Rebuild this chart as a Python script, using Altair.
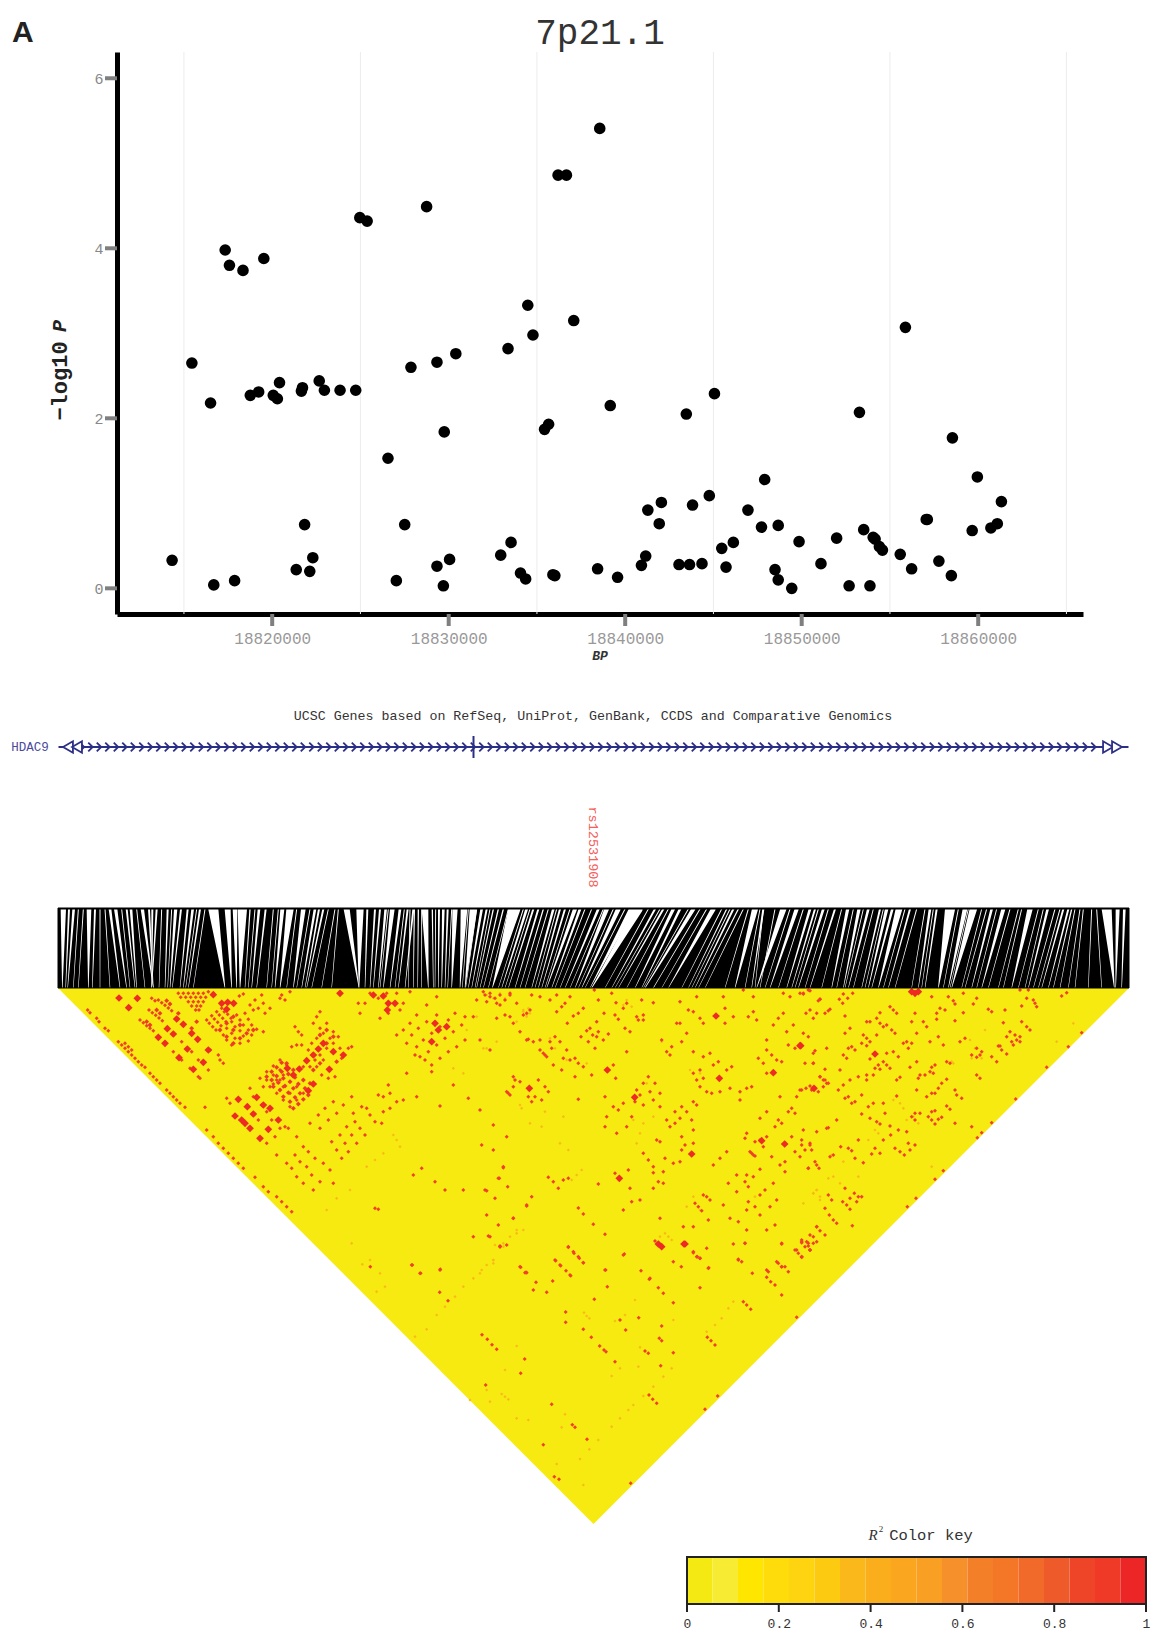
import altair as alt
import pandas as pd

W, H = 1144, 1628
MONO = "Liberation Mono"
NAVY = "#2c2f86"

bp_read = [18814380,18815490,18816540,18816720,18817360,18817600,18817890,18818360,18818770,18819240,18819530,18820060,18820290,18820410,18821350,18821640,18821700,18821820,18822110,18822280,18822640,18822930,18823810,18824690,18824920,18825330,18826500,18826970,18827440,18827790,18828670,18829250,18829250,18829610,18829660,18829960,18830310,18832830,18833240,18833410,18833940,18834230,18834350,18834640,18835290,18835520,18835760,18835870,18836050,18836520,18836930,18838270,18838390,18838980,18839390,18840730,18840970,18841090,18841730,18841850,18842840,18843250,18843430,18843600,18844130,18844540,18844830,18845240,18845480,18845890,18846710,18847470,18847650,18848230,18848410,18848410,18849170,18849580,18850810,18851690,18852390,18852970,18853210,18853560,18853740,18853850,18854090,18854260,18855260,18855550,18855900,18856720,18856780,18857430,18858130,18858190,18859300,18859590,18860350,18860710,18860940]
bp = [18820000 + round((v - 18820000) * 1.00916) for v in bp_read]
logp = [0.33,2.65,2.18,0.04,3.98,3.80,0.09,3.74,2.27,2.31,3.88,2.27,2.23,2.42,0.22,2.32,2.36,0.75,0.20,0.36,2.44,2.33,2.33,2.33,4.36,4.32,1.53,0.09,0.75,2.60,4.49,2.66,0.26,0.03,1.84,0.34,2.76,0.39,2.82,0.54,0.18,0.11,3.33,2.98,1.87,1.93,0.16,0.15,4.86,4.86,3.15,0.23,5.41,2.15,0.13,0.27,0.38,0.92,0.76,1.01,0.28,2.05,0.28,0.98,0.29,1.09,2.29,0.47,0.25,0.54,0.92,0.72,1.28,0.22,0.74,0.10,0.00,0.55,0.29,0.59,0.03,2.07,0.69,0.03,0.60,0.58,0.49,0.45,0.40,3.07,0.23,0.81,0.81,0.32,0.15,1.77,0.68,1.31,0.71,0.76,1.02]
grid_bp = [18815000,18825000,18835000,18845000,18855000,18865000]
tick_bp = [18820000,18830000,18840000,18850000,18860000]
tick_p = [0, 2, 4, 6]

# White gaps between SNP connector lines: (top reading, width at top, bottom reading)
gaps_a = [(25,16,22),(42,6,32),(56,8,38),(102,14,100),(120,6,112),(165,8,195),(182,10,215),(215,6,240),(228,8,245),(262,10,295),(282,6,295),(292,6,290),(305,6,290),(338,6,330),(362,10,345),(378,6,352),(398,6,375),(413,8,385),(435,6,400),(475,30,510),(518,18,530),(540,14,545),(562,28,555),(585,4,570),(612,8,590),(632,6,605),(682,12,660),(705,22,675),(745,14,715),(780,8,740),(792,6,750),(805,6,755),(875,18,912),(915,22,912),(937,6,930),(960,6,945),(975,6,955),(992,8,970),(1012,14,985),(1035,8,1005),(1058,6,1030),(1075,6,1050),
          (70,3,55),(85,3,70),(135,3,135),(150,3,165),(200,3,225),(245,3,270),(320,3,312),(350,3,338),(425,3,392),(450,3,415),(600,3,580),(655,3,635),(670,3,650),(725,3,695),(765,3,725),(820,3,770),(840,3,800),(850,3,830),(1000,3,975),(1048,3,1020)]
gaps_b = [(28,4,25),(40,4,38),(60,20,70),(82,4,85),(102,6,100),(115,8,110),(128,6,120),(150,16,140),(177,20,165),(205,22,180),(230,8,190),(245,6,200),(265,4,215),(280,4,225),(295,4,235),(328,36,262),(365,8,290),(385,6,310),(400,6,330),(415,4,345),(445,8,380),(465,6,400),(480,6,410),(510,12,425),(525,8,440),(580,8,480),(605,14,510),(640,14,530),(680,16,555),(700,26,560),(750,6,620),(775,6,640),(805,10,690),(825,8,710),(865,12,720),(925,14,790),(965,4,850),(985,6,870),(1000,4,880),(1050,18,990),(1075,6,1040),
          (15,3,10),(50,3,50),(92,3,90),(140,3,128),(190,3,172),(215,3,182),(255,3,210),(310,3,250),(355,3,280),(375,3,300),(430,3,360),(455,3,390),(495,3,420),(540,3,450),(560,3,465),(595,3,495),(625,3,520),(660,3,540),(730,3,600),(765,3,630),(790,3,665),(850,3,715),(885,3,745),(905,3,770),(950,3,830),(975,3,860),(1015,3,900),(1030,3,960),(1065,3,1020)]
gaps_c = [(85,18,5),(125,12,45),(165,8,95),(180,6,110),(205,8,130),(240,6,165),(278,10,230),(312,10,265),(340,8,280),(375,6,320),(395,10,340),(412,8,350),(432,20,370),(465,6,400),(525,8,490),(545,6,510),(585,30,550),(630,14,580),(655,22,590),(710,8,650),(745,12,680),(825,16,770),(878,8,820),(925,6,860),(940,6,880),(950,4,895),(1055,30,1078),(1088,12,1082),(1108,8,1100),
          (25,3,0),(60,3,15),(105,3,30),(145,3,70),(190,3,120),(220,3,150),(260,3,200),(295,3,245),(325,3,270),(355,3,295),(385,3,330),(450,3,385),(485,3,420),(510,3,470),(535,3,500),(610,3,565),(640,3,585),(680,3,620),(695,3,630),(725,3,665),(765,3,700),(790,3,730),(800,3,745),(850,3,790),(865,3,810),(900,3,835),(915,3,850),(960,3,915),(975,3,940),(985,3,960),(1010,3,1000),(1025,3,1040)]

# R2 cells, per crop
ld_a_big = [(207,54),(262,55),(236,83),(490,44),(533,67),(551,70),(515,70),(530,88),(380,117),(400,133),(352,146),(370,162),(325,172),(345,190),(425,160),(443,178),(412,207),(387,233),(475,210),(430,268),(460,247),(730,285),(748,267),(712,265),(775,332),(790,312),(640,375),(660,385),(610,402),(585,430),(630,475),(655,448),(685,420),(838,268),(880,225),(790,225),(770,242),(1035,70),(1012,90),(1000,48),(970,45),(870,40),(820,190),(805,207),(850,215),(1190,140),(1145,185),
            (565,358),(592,380),(620,352),(555,408),(575,420),(600,445),(1155,130),(1165,150),(1015,70)]
ld_a_block = [(650,290),(665,275),(680,262),(695,248),(665,300),(680,288),(695,275),(710,250),(670,320),(685,308),(700,295),(715,282),(730,270),(690,330),(705,318),(720,305),(735,292),(700,350),(715,338),(730,325),(745,312),(760,300),(720,365),(735,352),(750,340),(765,325),(780,310),(730,385),(745,372),(760,358),(775,345),(550,110),(530,130),(510,150),(570,135),(550,150),(530,170),(590,160),(570,175),(550,190),(610,150),(290,125),(300,135),(320,90),(330,100),(350,62),(360,72),(440,125),(425,145),(385,100),(810,165),(830,150),(850,170),(830,190),(810,250),(790,270),(860,245)]
ld_a_med = [(270,120),(280,128),(290,137),(300,145),(310,152),(297,90),(307,98),(317,106),(327,114),(337,122),(325,60),(335,68),(345,76),(355,84),(365,92),(305,55),(315,62),(385,40),(400,40),(415,40),(430,40),(445,40),(460,40),(475,35),(392,52),(407,52),(422,52),(437,52),(452,52),(467,52),(415,65),(430,65),(445,65),(460,65),(425,78),(440,78),(452,78),(437,90),(447,90),(470,120),(485,107),(500,95),(515,85),(478,130),(493,117),(508,105),(523,95),(488,140),(503,127),(518,115),(533,103),(498,150),(513,137),(528,125),(543,115),(560,105),(585,100),(545,125),(570,120),(595,118),(530,145),(555,140),(580,135),(605,135),(520,165),(545,160),(570,152),(595,150),(620,148),(530,180),(555,175),(580,168),(605,165),(545,195),(570,190),(595,183),(640,155),(615,60),(635,45),(600,75),(640,70),(660,85),(625,85),(645,100),(610,90),(568,48),(580,42),(695,45),(720,35),(705,60),(690,55),(735,140),(745,155),(755,165),(800,110),(810,95),(790,130),(600,325),(620,350),(690,240),(670,258),(650,275),(630,295),(710,255),(700,285),(680,300),(660,320),(720,305),(700,320),(680,340),(740,320),(720,340),(700,360),(760,340),(740,360),(720,380),(690,300),(670,312),(650,300),(670,285),(690,270),(640,320),(810,145),(830,130),(850,155),(865,170),(840,175),(820,160),(800,175),(785,190),(755,195),(775,210),(795,240),(815,285),(835,295),(855,290),(875,235),(895,205),(905,200),(820,240),(800,260),(780,260),(760,260),(740,195),(725,200),(850,190),(870,205),(830,205),(810,225),(113,90),(120,98),(140,115),(147,125),(165,145),(175,152),(205,185),(215,195),(225,205),(235,215),(245,225),(255,235),(265,245),(275,255),(285,262),(225,190),(235,200),(245,210),(300,280),(310,290),(320,300),(330,310),(350,330),(360,340),(370,350),(380,360),(390,370),(405,382),(465,382),(470,450),(490,470),(505,490),(520,505),(535,520),(550,535),(565,550),(580,565),(615,592),(640,620),(655,635),(680,650),(695,665),(710,680),(725,695),(420,265),(445,290),(450,295),(475,270),(510,240),(480,210),(505,225),(520,250),(395,240),(370,215),(395,185),(425,215),(445,240),(590,380),(610,350),(635,375),(530,355),(540,370),(625,420),(650,395),(665,420),(690,445),(705,440),(650,490),(675,470),(715,445),(740,470),(850,365),(825,385),(805,405),(780,430),(905,350),(880,375),(860,400),(835,420),(810,445),(915,425),(890,440),(870,465),(845,485),(930,445),(905,465),(885,490),(860,510),(945,465),(920,490),(895,515),(875,535),(910,400),(935,380),(950,385),(960,405),(975,425),(995,430),(1000,350),(1020,340),(985,345),(1015,315),(1040,365),(1060,360),(1070,280),(1100,350),(1020,385),(1000,395),(710,550),(735,525),(760,500),(725,565),(750,545),(775,515),(740,590),(770,560),(795,535),(820,550),(840,570),(760,610),(785,585),(810,605),(790,630),(850,610),(680,525),(1160,105),(1130,125),(1105,145),(1085,165),(1070,190),(1215,100),(1195,120),(1170,140),(1145,160),(1120,180),(1100,200),(1235,135),(1210,155),(1185,175),(1160,195),(1135,215),(1110,230),(1245,180),(1220,200),(1195,215),(1170,235),(1145,255),(1125,240),(1145,275),(1095,225),(1040,165),(1060,150),(1080,130),(1100,105),(1130,75),(1160,50),(1245,110),(1270,110),(960,40),(985,55),(1010,40),(1040,40),(925,70),(945,70),(930,100),(990,115),(1015,100),(1050,90),(1060,70),(1080,35),(1440,325),(1375,340),(1390,290),(1330,435),(1290,390),(1255,355),(1170,378),(1210,315),(1155,605),(1185,630),(1240,630),(1305,630),(975,685),(1390,715),(1430,675),(1320,770),(1270,770),(1350,800),(1430,878),(1085,855),(1110,880),(1170,870),(1115,565),(1090,585),(1345,595),(1360,560),(1295,495),(1330,510),(1370,470),(1480,220),(1440,90),(1280,60),(1340,70),(1400,70),(1380,110),(1430,100),(1430,180),(1470,180),(1490,230),(1320,40),(1350,45),(1300,35),(1380,40),(1290,180),(1320,210),(985,688)]
ld_a_faint = [(1310,45),(1330,55),(1350,40),(1365,55),(1420,95),(1435,85),(1430,105),(1280,110),(1250,150),(1300,205),(1210,265),(1240,280),(950,560),(975,540),(1000,520),(900,630),(860,655),(830,690),(1040,480),(1030,465),(1050,500),(1330,850),(1290,880),(1360,800),(1380,770),(1400,750)]

ld_b_big = [(708,108),(382,270),(148,325),(464,352),(718,295),(880,278),(962,197),(914,492),(418,595),(635,522),(845,482),(612,792)]
ld_b_med = [(343,30),(650,50),(730,50),(985,30),(1020,58),(970,42),(395,40),(355,60),(485,60),(408,68),(440,70),(520,68),(430,85),(270,50),(230,45),(180,50),(155,45),(210,60),(255,70),(245,80),(230,95),(310,85),(295,100),(280,108),(262,130),(372,100),(470,110),(490,105),(475,120),(490,120),(405,105),(415,118),(350,125),(330,145),(320,152),(303,170),(355,155),(350,170),(338,165),(325,185),(370,180),(385,162),(345,205),(450,155),(435,145),(145,178),(160,185),(120,155),(50,115),(75,105),(100,130),(130,105),(30,50),(20,65),(45,55),(60,75),(75,60),(90,45),(15,45),(210,185),(225,170),(240,185),(215,205),(260,210),(250,235),(270,240),(285,235),(295,250),(245,270),(220,255),(180,210),(195,225),(285,290),(310,260),(335,285),(400,255),(407,295),(440,215),(625,90),(640,95),(600,65),(660,115),(670,130),(735,85),(735,130),(760,110),(805,110),(830,120),(820,95),(820,50),(790,30),(910,100),(880,135),(895,115),(940,135),(920,155),(970,160),(1000,115),(1000,250),(1000,220),(975,250),(985,170),(860,180),(860,210),(835,235),(850,250),(875,225),(905,245),(890,240),(945,205),(925,195),(910,40),(930,50),(960,40),(590,130),(600,130),(620,160),(605,185),(545,180),(575,200),(560,215),(570,225),(640,215),(690,220),(670,230),(715,245),(700,255),(740,270),(755,260),(640,280),(660,270),(670,295),(650,300),(660,320),(680,335),(695,340),(720,335),(750,325),(780,335),(800,325),(815,320),(780,360),(860,280),(490,310),(505,290),(470,330),(510,335),(525,310),(480,345),(540,340),(105,300),(100,320),(120,305),(80,335),(90,345),(175,300),(195,320),(165,350),(185,360),(145,350),(155,365),(205,335),(295,358),(375,350),(380,410),(375,440),(400,380),(415,390),(430,370),(455,410),(440,440),(410,460),(465,365),(490,375),(520,360),(540,380),(560,420),(585,395),(605,380),(620,395),(570,440),(600,415),(635,420),(650,375),(640,365),(640,450),(605,470),(615,495),(605,510),(640,490),(530,480),(540,485),(490,520),(505,540),(445,570),(520,560),(520,578),(535,605),(550,575),(550,610),(520,625),(480,660),(455,665),(430,690),(450,625),(600,545),(580,550),(555,535),(720,535),(700,555),(740,515),(840,415),(860,395),(900,350),(950,350),(965,330),(995,330),(1030,320),(1005,325),(1015,335),(990,318),(1020,290),(1035,300),(1045,310),(935,385),(925,395),(945,400),(895,420),(905,430),(885,440),(800,460),(795,475),(840,480),(860,470),(825,485),(850,500),(810,515),(820,525),(875,530),(900,555),(915,545),(945,515),(960,530),(985,565),(1010,555),(1040,445),(965,480),(990,495),(935,470),(915,575),(840,568),(800,585),(770,585),(745,610),(795,605),(805,620),(770,635),(820,590),(880,610),(855,630),(840,645),(805,665),(800,690),(825,680),(890,660),(870,680),(840,705),(730,675),(685,720),(540,715),(655,680),(645,670),(665,692),(680,650),(690,660),(670,645),(750,715),(775,725),(610,740),(640,740),(800,750),(860,750),(885,735),(905,790),(1010,740),(1000,770),(985,790),(965,780),(990,810),(950,810),(965,830),(650,830),(660,835),(680,805),(640,815),(685,865),(795,790),(775,840),(860,870),(890,845),(905,860),(510,895),(375,870),(430,825),(310,848),(295,830),(280,815),(265,800),(240,855),(225,840),(135,878),(120,860),(270,885),(45,655),(20,632),(70,563),(58,595),(83,620),(140,678),(155,650),(100,715),(25,768),(20,705),(55,735),(60,800),(340,733),(375,763),(310,702),(295,684),(235,625),(205,592),(220,605),(250,600),(265,595),(355,612),(405,580),(525,783),(535,792),(545,800),(815,520),(825,528),(585,430)]
ld_b_faint = [(130,90),(150,100),(140,110),(110,125),(545,185),(630,270),(660,280),(430,75),(440,60),(455,80),(20,205),(30,210),(50,185),(210,175),(225,205),(260,240),(320,250),(305,570),(290,585),(275,600),(120,375),(125,385),(195,395),(540,770),(555,760),(565,770),(575,780),(640,650),(660,690),(620,680),(1000,640),(1010,630),(1020,650),(825,650),(45,795),(70,790),(130,750),(110,760),(40,840),(20,855),(470,490),(480,460),(490,430),(460,420),(520,410),(265,510),(240,490),(500,310),(970,670),(150,430),(185,440),(250,410)]

ld_c_big = [(345,40),(335,35),(355,35),(225,222),(42,325),(0,197)]
ld_c_med = [(10,40),(30,32),(60,58),(55,62),(118,58),(130,42),(158,40),(143,55),(128,70),(90,88),(85,92),(50,100),(75,100),(30,90),(18,100),(270,80),(280,90),(290,100),(240,98),(230,115),(240,130),(250,140),(210,125),(200,125),(135,108),(150,145),(135,160),(190,165),(200,175),(210,185),(185,190),(200,197),(230,165),(260,135),(275,150),(285,160),(345,100),(335,125),(370,125),(380,140),(350,160),(395,50),(445,50),(460,62),(465,72),(520,72),(530,55),(490,98),(410,100),(420,85),(435,90),(410,118),(465,122),(565,88),(575,95),(615,90),(610,128),(665,125),(680,140),(690,150),(665,78),(680,55),(705,70),(710,80),(785,48),(800,38),(700,60),(685,30),(660,30),(490,40),(630,155),(645,165),(660,170),(620,170),(635,185),(650,180),(660,185),(640,195),(595,198),(605,210),(620,222),(590,245),(575,230),(530,205),(545,215),(540,225),(530,232),(515,225),(495,175),(480,185),(430,195),(390,185),(415,170),(320,185),(335,190),(325,205),(310,190),(295,230),(280,215),(260,220),(250,245),(260,255),(270,265),(235,255),(240,268),(225,265),(210,237),(155,200),(165,210),(145,205),(130,225),(140,235),(120,270),(75,268),(40,250),(45,212),(80,205),(0,330),(18,325),(60,290),(70,300),(80,310),(300,292),(290,300),(350,245),(330,262),(360,285),(355,295),(375,285),(395,262),(405,255),(390,275),(400,280),(440,298),(425,310),(415,325),(405,340),(395,340),(380,350),(465,330),(485,355),(470,345),(530,285),(540,295),(440,378),(450,388),(405,392),(395,395),(385,410),(415,418),(425,412),(405,432),(395,420),(350,330),(345,400),(360,400),(335,410),(345,420),(290,348),(250,370),(220,370),(205,380),(185,402),(210,415),(230,425),(240,432),(255,400),(270,438),(295,450),(272,465),(320,455),(325,490),(345,495),(330,510),(313,525),(300,515),(285,505),(250,480),(240,520),(215,522),(225,505),(175,480),(145,505),(155,512),(122,500),(190,548),(165,535),(100,525),(90,530),(25,565),(57,565),(45,545),(35,510),(15,510),(5,495),(30,490),(50,455),(10,450),(85,443),(110,420),(185,345),(165,365),(155,370),(135,355),(145,350),(150,300),(130,315),(115,330),(175,290),(200,285),(200,300),(220,285),(405,598),(430,572),(532,473),(545,458),(575,428),(740,262),(805,200),(845,158),(647,357),(348,655),(322,680),(600,198),(465,430),(515,440),(440,245),(450,250),(60,752),(75,765),(50,740),(88,705),(100,720),(110,730),(157,737),(128,665),(140,675),(150,688),(163,640),(175,650),(185,650),(150,655),(170,665),(135,625),(30,765),(20,785),(40,790),(50,785),(30,810),(15,800),(5,785),(5,830),(75,685),(95,660),(85,645)]
ld_c_faint = [(555,150),(510,180),(525,205),(545,235),(460,250),(455,245),(340,410),(320,420),(300,370),(310,385),(280,360),(355,430),(225,450),(235,460),(205,480),(130,545),(100,590),(85,595),(50,630),(40,640),(60,660),(175,590),(120,610),(95,525),(820,130),(770,185),(395,560),(515,235)]

ld_d_big = [(1155,12),(1075,12),(1085,20)]
ld_d_med = [(600,18),(620,15),(805,22),(822,40),(838,55),(850,68),(767,62),(782,77),(798,92),(812,107),(973,42),(1180,38),(1192,50),(1200,55),(1226,83),(1144,80),(1120,65),(1023,92),(1048,118),(1075,143),(1090,160),(1120,188),(1200,143),(1300,12),(1335,10),(1315,58),(1325,65),(1445,12),(1505,8),(1525,18),(1485,30),(1495,40),(1505,52),(1530,30),(1435,70),(1445,80),(1455,80),(1405,95),(1400,112),(1412,125),(1425,135),(1357,100),(1445,165),(1465,95),(1330,185),(1340,195),(1352,208),(1490,232),(1253,468),(1215,508),(992,730),(763,710),(777,718),(337,75),(362,100),(421,88),(211,80),(419,157),(444,182),(662,82),(678,97),(708,127),(758,123),(700,150),(740,157),(883,178),(917,90),(922,140),(797,216),(797,247),(850,268),(874,292),(899,318),(912,330),(918,335),(945,365),(1016,233),(977,270),(960,240),(1078,295),(1085,302),(1085,258),(1035,333),(1045,340),(1120,338),(1082,377),(546,284),(562,298),(576,314),(590,328),(674,357),(662,400),(557,435),(755,493),(817,554),(825,562),(861,598),(730,614),(1047,465),(1058,478),(1070,490),(1222,292),(1233,302),(1245,315)]
ld_d_faint = [(580,60),(545,90),(520,115),(490,140),(465,170),(435,200),(410,225),(380,268),(345,290),(155,10),(210,60),(240,100),(255,140),(230,155),(187,73),(1300,185),(1285,205),(1265,235),(1245,255),(1220,275),(860,228),(852,218),(868,235),(1115,385),(1090,410),(1060,440),(1030,468),(1000,495),(985,510),(960,535),(935,560),(895,600),(868,628),(840,657),(615,470),(605,462),(625,478),(650,318),(615,390),(560,450),(510,480),(570,485),(650,535),(685,540),(795,523),(785,562),(770,672),(850,735),(935,408),(960,385),(1020,322),(1015,380),(1120,240),(975,225),(945,243),(1005,180)]

key_breaks = [i / 18 for i in range(19)]
key_colors = ["#f5e914","#f7ec33","#ffe600","#fedc0c","#fdd40f","#fccb11","#fbb81a","#fbae1c","#faa61f","#f99f24","#f6902a","#f47f29","#f47728","#f26a2a","#ef5a2a","#ee4428","#ee3a27","#ec2527"]
key_ticks = [0, 0.2, 0.4, 0.6, 0.8, 1]


def cells(reads, ox, oy):
    rows = []
    for zx, zy in reads:
        pos, depth = ox + zx / 3 - 58, oy + zy / 3 - 988
        if depth >= 0 and depth <= min(pos, 1071 - pos):
            rows.append({"pos": pos, "depth": depth})
    return rows


def gaps(reads, ox):
    rows = []
    for k, (top, w, bot) in enumerate(reads):
        rows.append({"id": f"{ox}-{k}", "o": 0, "pos": ox + top / 3 - 58, "depth": -79, "w": w / 3})
        rows.append({"id": f"{ox}-{k}", "o": 1, "pos": ox + bot / 3 - 58, "depth": 0, "w": 0.5})
    return rows


big = cells(ld_a_big, 50, 980) + cells(ld_b_big, 480, 980) + cells(ld_c_big, 800, 980) + cells(ld_d_big, 300, 1240)
block = cells(ld_a_block, 50, 980)
med = cells(ld_a_med, 50, 980) + cells(ld_b_med, 480, 980) + cells(ld_c_med, 800, 980) + cells(ld_d_med, 300, 1240)
faint = cells(ld_a_faint, 50, 980) + cells(ld_b_faint, 480, 980) + cells(ld_c_faint, 800, 980) + cells(ld_d_faint, 300, 1240)
wedges = gaps(gaps_a, 55) + gaps(gaps_b, 405) + gaps(gaps_c, 755)

pos_scale = alt.Scale(domain=[0, 1071], range=[50, 1121], nice=False, zero=False)
depth_scale = alt.Scale(domain=[-80, 536], range=[900, 1516], nice=False, zero=False)
POS = alt.X("pos:Q", scale=pos_scale, axis=None)
DEPTH = alt.Y("depth:Q", scale=depth_scale, axis=None)

bp_scale = alt.Scale(domain=[18811207, 18865938], range=[109, 1075], nice=False, zero=False)
p_scale = alt.Scale(domain=[-0.302, 6.309], range=[606, 44], nice=False, zero=False)
key_scale = alt.Scale(domain=[0, 1], range=[679, 1138], nice=False, zero=False)


def label(text, x, y, **kw):
    return alt.Chart(alt.Data(values=[{"t": text}])).mark_text(**kw).encode(
        text="t:N", x=alt.value(x - 8), y=alt.value(y - 8))


grid = alt.Chart(pd.DataFrame({"g": grid_bp})).mark_rule(color="#ececec", strokeWidth=1).encode(
    x=alt.X("g:Q", scale=bp_scale, axis=None), y=alt.value(44), y2=alt.value(606))
xticks = alt.Chart(pd.DataFrame({"g": tick_bp})).mark_rule(color="#7f7f7f", strokeWidth=4).encode(
    x=alt.X("g:Q", scale=bp_scale, axis=None), y=alt.value(606), y2=alt.value(618))
yticks = alt.Chart(pd.DataFrame({"g": tick_p})).mark_rule(color="#7f7f7f", strokeWidth=4).encode(
    y=alt.Y("g:Q", scale=p_scale, axis=None), x=alt.value(97), x2=alt.value(109))

dots = alt.Chart(pd.DataFrame({"bp": bp, "p": logp})).mark_circle(color="black", opacity=1, size=135).encode(
    x=alt.X("bp:Q", scale=bp_scale, axis=alt.Axis(
        orient="bottom", offset=-(H - 606), values=tick_bp, format="d", title=None, grid=False,
        domainColor="black", domainWidth=5, ticks=False,
        labelColor="#999999", labelFont=MONO, labelFontSize=16, labelPadding=16)),
    y=alt.Y("p:Q", scale=p_scale, axis=alt.Axis(
        orient="left", offset=-109, values=tick_p, format="d", title=None, grid=False,
        domainColor="black", domainWidth=5, ticks=False,
        labelColor="#888888", labelFont=MONO, labelFontSize=15, labelPadding=14)))

intron = alt.Chart(alt.Data(values=[{"a": 0.5, "b": 1070.5}])).mark_rule(color=NAVY, strokeWidth=2).encode(
    x=alt.X("a:Q", scale=pos_scale, axis=None), x2="b:Q", y=alt.value(739))
chevrons = alt.Chart(pd.DataFrame({"pos": [24 + 8.5 * i for i in range(120)]})).mark_point(
    shape="M-0.5,-1L0.5,0L-0.5,1", stroke=NAVY, strokeWidth=1.8, filled=False, size=80, opacity=1).encode(
    x=POS, y=alt.value(739))
exon = alt.Chart(alt.Data(values=[{"pos": 415.5}])).mark_rule(color=NAVY, strokeWidth=2).encode(
    x=POS, y=alt.value(728), y2=alt.value(750))
ends_l = alt.Chart(pd.DataFrame({"pos": [10, 19]})).mark_point(
    shape="triangle-left", stroke=NAVY, strokeWidth=1.8, fill="white", filled=True, size=130, opacity=1).encode(
    x=POS, y=alt.value(739))
ends_r = alt.Chart(pd.DataFrame({"pos": [1050, 1059]})).mark_point(
    shape="triangle-right", stroke=NAVY, strokeWidth=1.8, fill="white", filled=True, size=130, opacity=1).encode(
    x=POS, y=alt.value(739))

triangle = alt.Chart(alt.Data(values=[
    {"pos": 0, "depth": 0, "top": 0}, {"pos": 535.5, "depth": 536, "top": 0}, {"pos": 1071, "depth": 0, "top": 0}
])).mark_area(color="#f6ea10", opacity=1).encode(x=POS, y=DEPTH, y2="top:Q")


def cell_layer(rows, color, size):
    return alt.Chart(alt.Data(values=rows)).mark_point(
        shape="diamond", filled=True, color=color, size=size, opacity=1).encode(x=POS, y=DEPTH)


cells_faint = cell_layer(faint, "#fbb81a", 10)
cells_med = cell_layer(med, "#f0402a", 16)
cells_block = cell_layer(block, "#ef3a28", 24)
cells_big = cell_layer(big, "#ee2a24", 60)

bar = alt.Chart(alt.Data(values=[{"pos": 0, "p2": 1071, "depth": -80, "d2": 0}])).mark_rect(color="black").encode(
    x=POS, x2="p2:Q", y=DEPTH, y2="d2:Q")
trail = alt.Chart(alt.Data(values=wedges)).mark_trail(color="white", opacity=1).encode(
    x=POS, y=DEPTH, detail="id:N", order="o:Q", size=alt.Size("w:Q", scale=None))
cover = alt.Chart(alt.Data(values=[{"pos": 0, "p2": 1071, "depth": -95, "d2": -80}])).mark_rect(color="white").encode(
    x=POS, x2="p2:Q", y=DEPTH, y2="d2:Q")
bar_edge = alt.Chart(alt.Data(values=[{"pos": 0, "p2": 1071, "depth": -80, "d2": -78.6}])).mark_rect(color="black").encode(
    x=POS, x2="p2:Q", y=DEPTH, y2="d2:Q")
bar_sides = alt.Chart(alt.Data(values=[{"pos": 0, "p2": 1071, "depth": -80, "d2": 0}])).mark_rect(
    fill=None, filled=False, stroke="black", strokeWidth=1).encode(x=POS, x2="p2:Q", y=DEPTH, y2="d2:Q")

key_df = pd.DataFrame({"k0": key_breaks[:-1], "k1": key_breaks[1:], "c": key_colors})
key = alt.Chart(key_df).mark_rect().encode(
    x=alt.X("k0:Q", scale=key_scale, axis=alt.Axis(
        orient="bottom", offset=-(H - 1596), values=key_ticks, format="~g", title=None, grid=False, domain=False,
        ticks=False, labelColor="#333333", labelFont=MONO, labelFontSize=13,
        labelPadding=13, labelFlush=False, labelOverlap=False)),
    x2="k1:Q", y=alt.value(1549), y2=alt.value(1596), color=alt.Color("c:N", scale=None))
key_box = alt.Chart(alt.Data(values=[{"a": 0, "b": 1}])).mark_rect(
    filled=False, fill=None, stroke="#222222", strokeWidth=2).encode(
    x=alt.X("a:Q", scale=key_scale, axis=None),
    x2="b:Q", y=alt.value(1549), y2=alt.value(1596))
key_tick = alt.Chart(pd.DataFrame({"k": key_ticks})).mark_rule(color="#222222", strokeWidth=2).encode(
    x=alt.X("k:Q", scale=key_scale, axis=None), y=alt.value(1596), y2=alt.value(1604))

texts = [
    label("A", 12, 33, font="Liberation Sans", fontWeight="bold", fontSize=30, align="left", baseline="middle", color="#222222"),
    label("7p21.1", 600, 33, font=MONO, fontSize=36, align="center", baseline="middle", color="#333333"),
    label("BP", 600, 656, font=MONO, fontStyle="italic", fontWeight="bold", fontSize=13, align="center", baseline="middle", color="#333333"),
    label("−log10", 60, 381, font=MONO, fontWeight="bold", fontSize=22, angle=270, align="center", baseline="middle", color="#222222"),
    label("P", 60, 326, font=MONO, fontWeight="bold", fontStyle="italic", fontSize=20, angle=270, align="center", baseline="middle", color="#222222"),
    label("UCSC Genes based on RefSeq, UniProt, GenBank, CCDS and Comparative Genomics", 593, 716, font=MONO, fontSize=13.3, align="center", baseline="middle", color="#333333"),
    label("HDAC9", 30, 747, font=MONO, fontSize=12.5, align="center", baseline="middle", color="#4a4a9e"),
    label("rs12531908", 592.5, 847, font=MONO, fontSize=13.5, angle=90, align="center", baseline="middle", color="#f4605a"),
    label("R", 873, 1535, font="Liberation Serif", fontStyle="italic", fontSize=15, align="center", baseline="middle", color="#333333"),
    label("2", 881, 1529, font="Liberation Serif", fontSize=9, align="center", baseline="middle", color="#333333"),
    label("Color key", 931, 1535, font=MONO, fontSize=15.5, align="center", baseline="middle", color="#333333"),
]

chart = alt.layer(
    grid, xticks, yticks, dots, intron, chevrons, exon, ends_l, ends_r, triangle,
    cells_faint, cells_med, cells_block, cells_big,
    bar, trail, cover, bar_edge, bar_sides, key, key_box, key_tick, *texts
).resolve_scale(x="independent", y="independent", color="independent", size="independent").properties(
    width=W, height=H, padding=0, autosize=alt.AutoSizeParams(type="none"), background="white"
).configure_view(stroke=None)

chart.save("out.html", embed_options={"renderer": "svg", "actions": False})
